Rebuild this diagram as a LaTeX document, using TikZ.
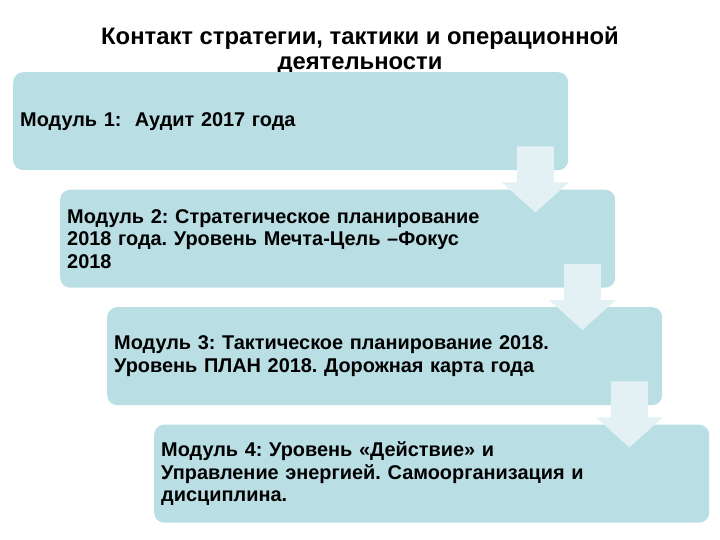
\documentclass[tikz,border=0pt]{standalone}
\usepackage{fontspec}
\setmainfont{Liberation Sans}
\usetikzlibrary{positioning}

\definecolor{boxFill}{HTML}{B9DEE3}
\definecolor{arrowFill}{HTML}{E3F1F4}

\begin{document}
\frenchspacing
\begin{tikzpicture}[x=1pt,y=-1pt,%%
  boxStyle/.style={rectangle,rounded corners=10pt,fill=boxFill,anchor=north west,%%
    minimum width=555pt,minimum height=98pt,text width=541pt,inner xsep=7pt,%%
    align=left,font=\bfseries\fontsize{19.9}{22.5}\selectfont},%%
  arrowStyle/.style={fill=arrowFill,draw=none},%%
  titleStyle/.style={align=center,inner sep=0pt,font=\bfseries\fontsize{23.8}{25.5}\selectfont}%%
]
%%
\useasboundingbox (0,0) rectangle (720,540);
%%
\pgfmathsetmacro{\dx}{47}
\pgfmathsetmacro{\dy}{117.5}
\pgfmathsetmacro{\xlow}{13}
\pgfmathsetmacro{\ylow}{72}
%%
%% Title.
\node[titleStyle,anchor=north] (title) at (360,26.5) {Контакт стратегии, тактики и операционной\\деятельности};
%%
%% The four modules.
\node[boxStyle] (mod1) at (\xlow,\ylow) {Модуль 1:\ \ Аудит 2017 года};
\node[boxStyle] (mod2) at (\xlow+\dx,\ylow+\dy) {Модуль 2: Стратегическое планирование\\2018 года. Уровень Мечта-Цель –Фокус\\2018};
\node[boxStyle] (mod3) at (\xlow+2*\dx,\ylow+2*\dy) {Модуль 3: Тактическое планирование 2018.\\Уровень ПЛАН 2018. Дорожная карта года};
\node[boxStyle] (mod4) at (\xlow+3*\dx,\ylow+3*\dy) {Модуль 4: Уровень «Действие» и\\Управление энергией. Самоорганизация и\\дисциплина.};
%%
%% Block arrows between the modules.
\foreach \from in {mod1,mod2,mod3}
  \draw[arrowStyle] ([xshift=-51.5pt,yshift=24pt]\from.south east)
    -- ++(37,0) -- ++(0,36) -- ++(15,0) -- ++(-33.5,30)
    -- ++(-33.5,-30) -- ++(15,0) -- cycle;
\end{tikzpicture}
\end{document}
